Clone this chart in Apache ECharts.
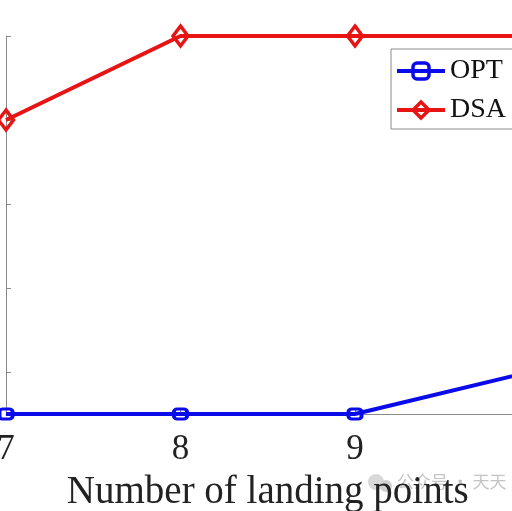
<!DOCTYPE html>
<html>
<head>
<meta charset="utf-8">
<title>Number of landing points</title>
<script src="https://cdn.jsdelivr.net/npm/echarts@6/dist/echarts.min.js"></script>
<style>
    html, body { margin: 0; padding: 0; background: #fff; }
    #chartOne { width: 512px; height: 511px; }
</style>
</head>
<body>
<div id="chartOne"></div>
<script>
// 横轴 着陆点数量
var landingPoints = ['7', '8', '9', '10'];
// 两条折线
var optData = [0, 0, 0, 1];
var dsaData = [7, 9, 9, 9];
// y轴刻度 (标签在原图中被裁掉)
var yTicks = [1, 3, 5, 7, 9];

var serifFont = 'Liberation Serif';
var blue = '#0b0bea';
var red = '#e81414';

var chartOne = echarts.init(document.getElementById('chartOne'));

var optionOne = {
    animation: false,
    backgroundColor: '#fff',
    grid: {
        left: 6,
        top: 36,
        width: 523.5,
        bottom: 97,
        outerBoundsMode: 'none'
    },
    legend: {
        left: 391,
        top: 49,
        orient: 'vertical',
        padding: [8, 60, 5, 4],
        borderColor: '#8a8a8a',
        borderWidth: 1,
        backgroundColor: '#fff',
        itemWidth: 48,
        itemHeight: 20,
        itemGap: 11,
        itemStyle: { borderWidth: 3.5 },
        lineStyle: { width: 4 },
        textStyle: {
            fontFamily: serifFont,
            fontSize: 28,
            color: '#111'
        },
        data: ['OPT', 'DSA']
    },
    xAxis: [
        {
            type: 'category',
            boundaryGap: false,
            data: landingPoints,
            name: 'Number of landing points',
            nameLocation: 'middle',
            nameGap: 59,
            nameTextStyle: {
                fontFamily: serifFont,
                fontSize: 39,
                color: '#222'
            },
            axisLine: { lineStyle: { color: '#8a8a8a', width: 1 } },
            axisTick: { inside: true, length: 5, lineStyle: { color: '#8a8a8a' } },
            axisLabel: {
                margin: 18,
                fontFamily: serifFont,
                fontSize: 35,
                color: '#222'
            },
            splitLine: { show: false }
        }
    ],
    yAxis: [
        {
            type: 'value',
            min: 0,
            max: 9,
            axisLine: { show: true, lineStyle: { color: '#8a8a8a', width: 1 } },
            axisTick: {
                show: true,
                inside: true,
                length: 5,
                customValues: yTicks,
                lineStyle: { color: '#8a8a8a' }
            },
            axisLabel: { show: false },
            splitLine: { show: false }
        }
    ],
    series: [
        {
            name: 'OPT',
            type: 'line',
            data: optData,
            clip: false,
            z: 3,
            symbol: 'roundRect',
            symbolSize: [13, 10],
            lineStyle: { color: blue, width: 4 },
            itemStyle: { color: 'rgba(255,255,255,0)', borderColor: blue, borderWidth: 3.5 }
        },
        {
            name: 'DSA',
            type: 'line',
            data: dsaData,
            clip: false,
            z: 2,
            symbol: 'diamond',
            symbolSize: [15, 20],
            lineStyle: { color: red, width: 4 },
            itemStyle: { color: 'rgba(255,255,255,0)', borderColor: red, borderWidth: 3.5 }
        }
    ],
    // 水印
    graphic: [
        {
            type: 'circle',
            left: 368,
            top: 474,
            z: -1,
            shape: { r: 8 },
            style: { fill: '#d8d8d8' }
        },
        {
            type: 'circle',
            left: 380,
            top: 480,
            z: -1,
            shape: { r: 6 },
            style: { fill: '#d0d0d0' }
        },
        {
            type: 'text',
            left: 397,
            top: 473,
            z: -1,
            style: {
                text: '公众号 · 天天',
                fontFamily: 'Noto Sans CJK SC',
                fontSize: 17,
                fill: '#c4c4c4'
            }
        }
    ]
};

chartOne.setOption(optionOne);
</script>
</body>
</html>
